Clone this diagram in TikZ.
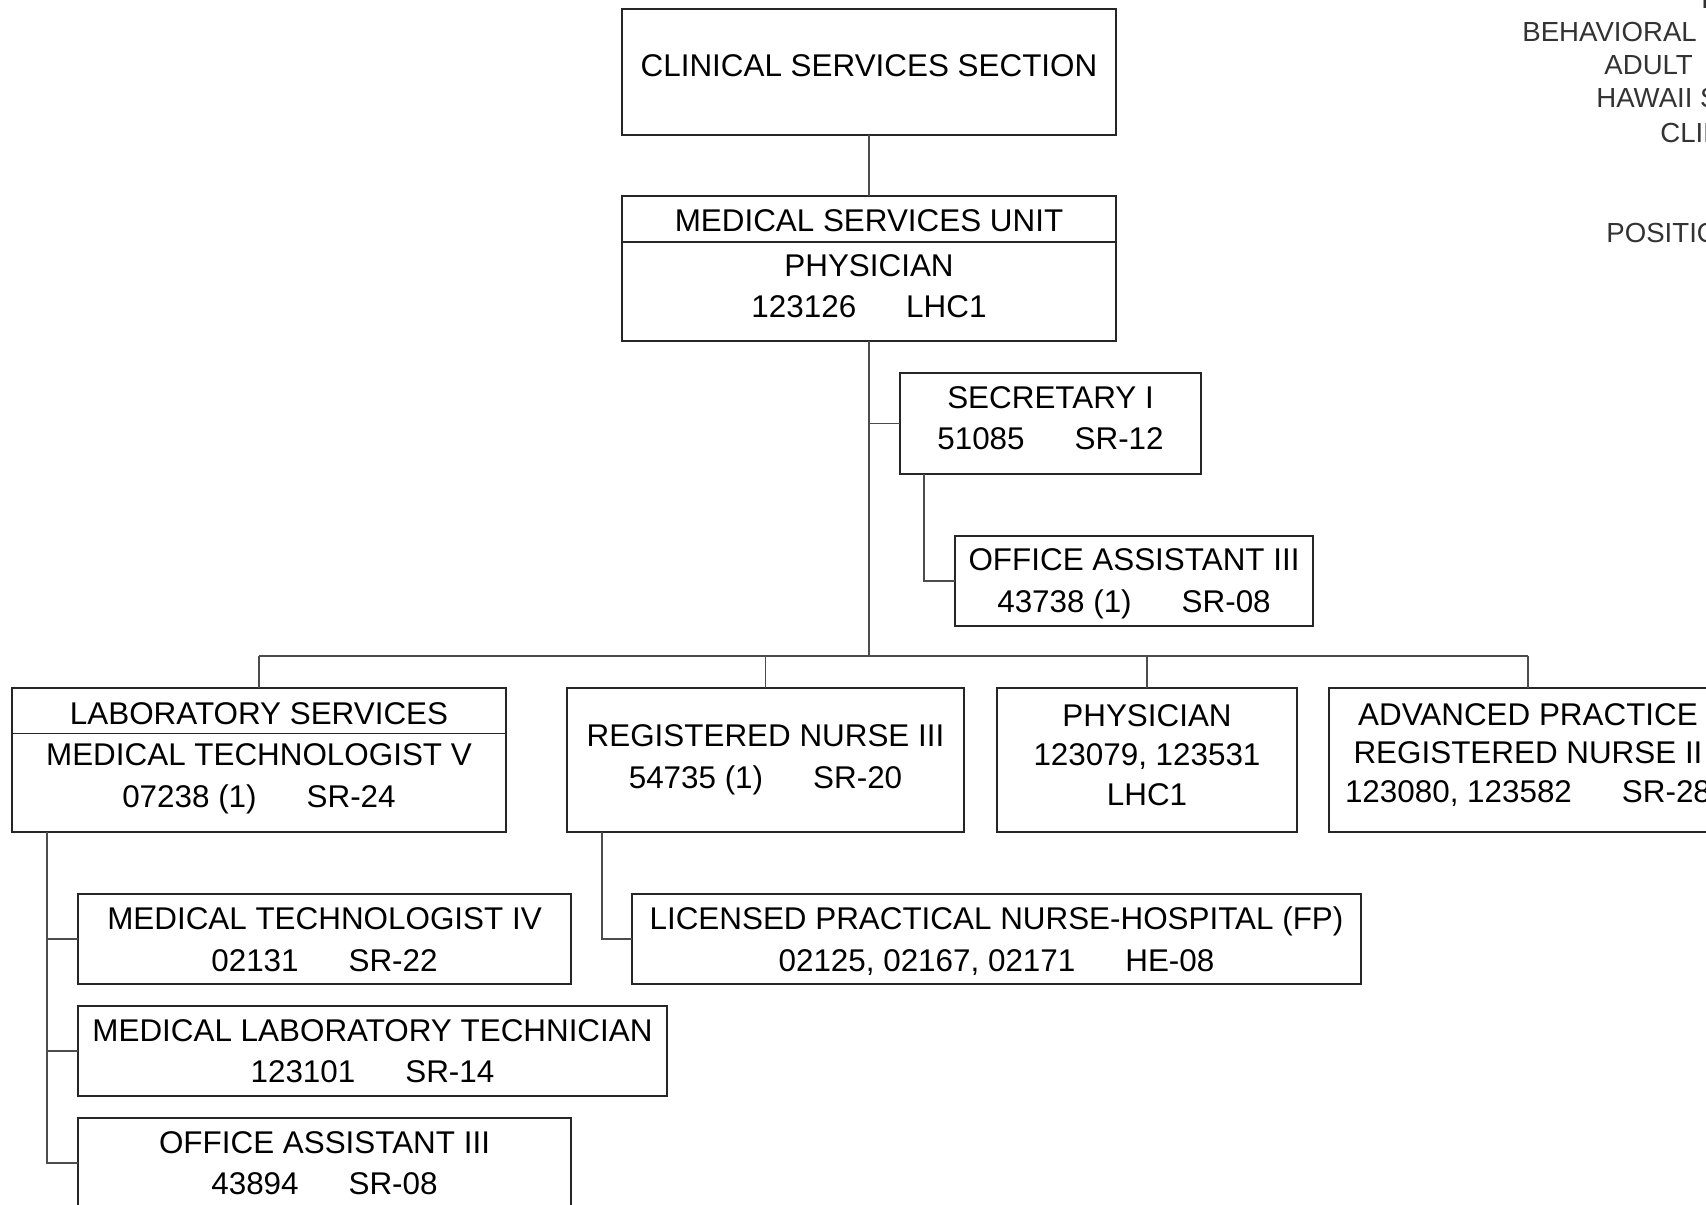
\documentclass[tikz,border=0pt]{standalone}
\usepackage{fontspec}
\setmainfont{Liberation Sans}
\newcommand{\boxfont}{\fontsize{15.7}{20.75}\selectfont}
\newcommand{\hdrfont}{\fontsize{13.8}{16.5}\selectfont}
\newcommand{\gap}{\hspace{25pt}}
\begin{document}
\begin{tikzpicture}[x=0.5pt, y=-0.5pt,
  post/.style={draw=black!85, line width=0.6pt, inner sep=0pt, outer sep=0pt},
  txt/.style={align=center, font=\boxfont, inner sep=0pt},
  hdr/.style={anchor=base west, font=\hdrfont, text=black!80, inner sep=0pt},
  conn/.style={draw=black!70, line width=0.6pt}
]
\useasboundingbox (0,0) rectangle (1706,1204);
\clip (0,0) rectangle (1706,1204);
\node[hdr] (hdr0) at (1701,9) {DEPARTMENT OF HEALTH};
\node[hdr] (hdr1) at (1522,42) {BEHAVIORAL HEALTH ADMINISTRATION};
\node[hdr] (hdr2) at (1604,75) {ADULT};
\node[hdr] (hdr3) at (1596,108) {HAWAII STATE HOSPITAL};
\node[hdr] (hdr4) at (1660,142) {CLINICAL SERVICES SECTION};
\node[hdr] (hdr5) at (1606,242) {POSITION ORGANIZATION CHART};
\node[post, minimum width=247pt, minimum height=63pt] (css) at (869,72) {};
\node[txt] (cssT) at (869,66) {CLINICAL SERVICES SECTION};
\node[post, minimum width=247pt, minimum height=72.5pt] (msu) at (869,268.5) {};
\node[txt] (msuH) at (869,221) {MEDICAL SERVICES UNIT};
\node[txt] (msuT) at (869,286) {PHYSICIAN\\123126\gap LHC1};
\node[post, minimum width=150.5pt, minimum height=50.5pt] (sec) at (1050.5,423.5) {};
\node[txt] (secT) at (1050.5,418) {SECRETARY I\\51085\gap SR-12};
\node[post, minimum width=179pt, minimum height=45pt] (oa1) at (1134,581) {};
\node[txt] (oa1T) at (1134,584) {OFFICE ASSISTANT III\\43738 (1)\gap SR-08};
\coordinate (bus) at (869,656);
\node[post, minimum width=247pt, minimum height=72pt] (lab) at (259,760) {};
\node[txt] (labH) at (259,714) {LABORATORY SERVICES};
\node[txt] (labT) at (259,779) {MEDICAL TECHNOLOGIST V\\07238 (1)\gap SR-24};
\node[post, minimum width=198.5pt, minimum height=72pt] (rn) at (765.5,760) {};
\node[txt] (rnT) at (765.5,760) {REGISTERED NURSE III\\54735 (1)\gap SR-20};
\node[post, minimum width=150pt, minimum height=72pt] (phy) at (1147,760) {};
\node[txt, font=\fontsize{15.7}{19.9}\selectfont] (phyT) at (1147,755) {PHYSICIAN\\123079, 123531\\LHC1};
\node[post, minimum width=199pt, minimum height=72pt] (aprn) at (1528,760) {};
\node[txt, font=\fontsize{15.7}{19.1}\selectfont] (aprnT) at (1528,755) {ADVANCED PRACTICE\\REGISTERED NURSE II\\123080, 123582\gap SR-28};
\node[post, minimum width=246.5pt, minimum height=45pt] (mt4) at (324.5,939) {};
\node[txt] (mt4T) at (324.5,939.5) {MEDICAL TECHNOLOGIST IV\\02131\gap SR-22};
\node[post, minimum width=294.5pt, minimum height=45pt] (mlt) at (372.5,1051) {};
\node[txt] (mltT) at (372.5,1051) {MEDICAL LABORATORY TECHNICIAN\\123101\gap SR-14};
\node[post, minimum width=246.5pt, minimum height=45pt] (oa2) at (324.5,1163) {};
\node[txt] (oa2T) at (324.5,1163) {OFFICE ASSISTANT III\\43894\gap SR-08};
\node[post, minimum width=364.5pt, minimum height=45pt] (lpn) at (996.5,939) {};
\node[txt] (lpnT) at (996.5,941) {LICENSED PRACTICAL NURSE-HOSPITAL (FP)\\02125, 02167, 02171\gap HE-08};
\draw[post] ([yshift=-23pt]msu.north west) -- ([yshift=-23pt]msu.north east);
\draw[post] ([yshift=-22.75pt]lab.north west) -- ([yshift=-22.75pt]lab.north east);
\draw[conn] (css.south) -- (msu.north);
\draw[conn] (msu.south) -- (bus);
\draw[conn] (sec.west) -- (sec.west -| msu.south);
\draw[conn] ([xshift=12pt]sec.south west) |- (oa1.west);
\draw[conn] (lab.north |- bus) -- (aprn.north |- bus);
\foreach \n in {lab,rn,phy,aprn} \draw[conn] (\n.north) -- (\n.north |- bus);
\foreach \n in {mt4,mlt,oa2} \draw[conn] ([xshift=17.5pt]lab.south west) |- (\n.west);
\draw[conn] ([xshift=17.5pt]rn.south west) |- (lpn.west);
\end{tikzpicture}
\end{document}
